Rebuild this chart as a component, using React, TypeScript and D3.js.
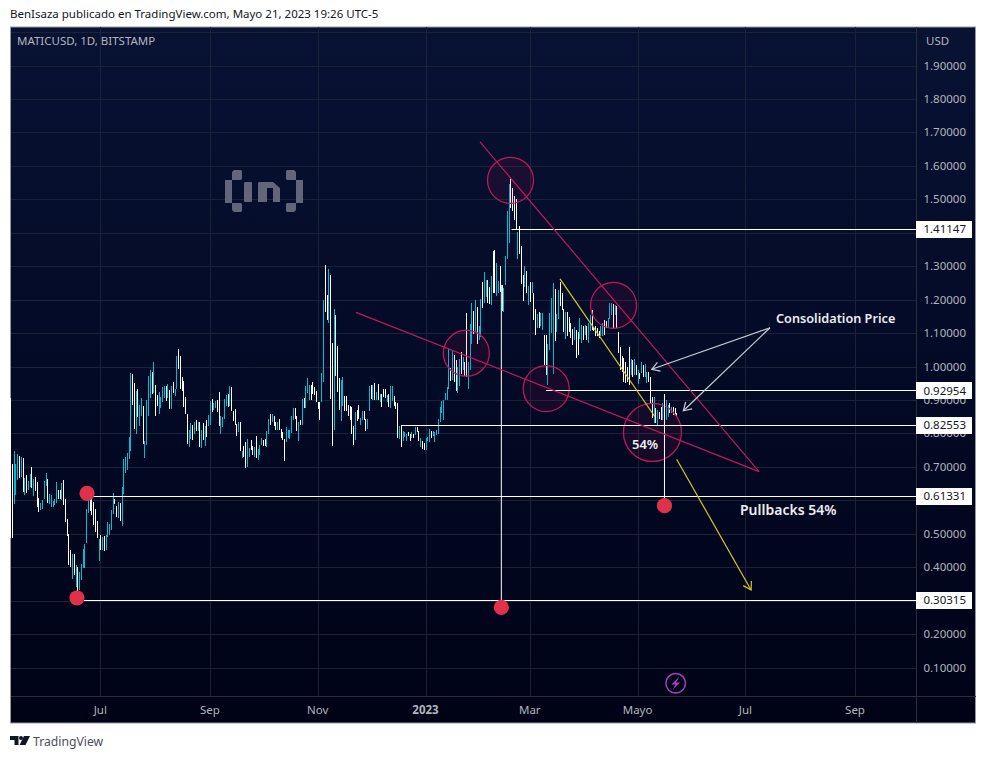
import React from 'react';
import * as d3 from 'd3';

// daily bars, first one on day -51 (days counted from Jul 1 2022)
const firstDay = -51;

const highs = [
  .906, .709, .748, .709, .739, .734, .729, .726, .666, .676,
  .658, .679, .699, .663, .671, .656, .606, .591, .601, .658,
  .681, .664, .618, .616, .598, .603, .656, .631, .631, .651,
  .661, .603, .543, .499, .451, .439, .441, .406, .401, .386,
  .409, .454, .469, .573, .626, .624, .621, .594, .573, .538,
  .484, .496, .491, .494, .496, .534, .529, .571, .621, .604,
  .583, .596, .591, .639, .723, .731, .741, .789, .981, .979,
  .951, .928, .933, .886, .906, .883, .778, .901, .973, .991,
  .985, 1.014, .946, .916, .924, .909, .939, .941, .941, .948,
  .931, .941, .954, .933, 1.033, 1.054, 1.033, .969, .958, .910,
  .859, .811, .831, .824, .835, .841, .834, .834, .811, .831,
  .823, .841, .854, .898, .904, .892, .898, .901, .924, .853,
  .849, .902, .914, .919, .943, .940, .868, .874, .829, .833,
  .835, .749, .764, .775, .784, .757, .781, .764, .761, .793,
  .753, .766, .787, .781, .784, .808, .844, .859, .859, .851,
  .835, .833, .844, .814, .803, .784, .820, .811, .811, .851,
  .877, .876, .851, .833, .841, .904, .907, .943, .966, .946,
  .946, .955, .940, .928, .894, .893, .981, 1.198, 1.303, 1.213,
  1.291, 1.273, 1.071, 1.171, 1.153, 1.063, .967, .961, .969, .913,
  .911, .884, .883, .879, .821, .864, .871, .886, .846, .868,
  .868, .844, .844, .943, .946, .944, .951, .924, .948, .919,
  .919, .933, .933, .916, .919, .943, .941, .911, .893, .891,
  .821, .823, .806, .804, .799, .805, .798, .803, .798, .818,
  .818, .808, .786, .778, .771, .785, .788, .814, .806, .808,
  .803, .811, .844, .879, .896, .901, .921, .939, 1.052, .995,
  1.047, 1.034, 1.019, .999, 1.024, 1.044, 1.029, 1.014, 1.161, 1.014,
  1.127, 1.191, 1.166, 1.199, 1.177, 1.121, 1.202, 1.252, 1.282, 1.259,
  1.259, 1.239, 1.271, 1.346, 1.349, 1.309, 1.257, 1.301, 1.244, 1.235,
  1.331, 1.466, 1.546, 1.561, 1.534, 1.509, 1.502, 1.401, 1.419, 1.361,
  1.274, 1.301, 1.286, 1.242, 1.252, 1.254, 1.219, 1.172, 1.156, 1.164, 1.16,
  1.159, 1.094, 1.094, 1.069, 1.161, 1.204, 1.249, 1.232, 1.157, 1.229,
  1.254, 1.219, 1.172, 1.164, 1.164, 1.147, 1.13, 1.112, 1.119, 1.109, 1.104,
  1.144, 1.125, 1.12, 1.125, 1.12, 1.13, 1.155, 1.17, 1.115, 1.12,
  1.115, 1.105, 1.12, 1.13, 1.14, 1.135, 1.145, 1.19, 1.19, 1.187, 1.185,
  1.18, 1.102, 1.058, 1.032, 1.025, 1.015, 1.0, 1.058, 1.022, 1.02,
  1.023, 1.005, .99, .98, 1.015, 1.005, 1.008, .985, .985, .97,
  .91, .908, .875, .87, .865, .88, .89, .917, .90, .885, .89,
  .88, .88, .875, .86,
];

const lows = [
  .486, .486, .589, .616, .661, .666, .671, .626, .616, .621,
  .631, .639, .636, .613, .629, .581, .566, .571, .573, .603,
  .643, .591, .589, .579, .581, .586, .591, .603, .603, .601,
  .586, .536, .494, .406, .401, .364, .376, .341, .316, .331,
  .361, .399, .398, .473, .561, .569, .556, .526, .506, .488,
  .418, .451, .451, .448, .451, .489, .496, .511, .559, .589,
  .549, .546, .539, .524, .619, .681, .691, .724, .748, .886,
  .814, .799, .848, .823, .851, .769, .728, .766, .851, .906,
  .919, .921, .851, .881, .859, .876, .893, .906, .896, .906,
  .873, .874, .921, .911, .933, .993, .934, .928, .878, .859,
  .769, .761, .784, .779, .798, .806, .806, .761, .756, .781,
  .764, .788, .821, .824, .864, .871, .876, .864, .821, .799,
  .818, .844, .881, .879, .881, .868, .836, .824, .791, .804,
  .749, .728, .729, .698, .701, .729, .751, .736, .729, .728,
  .721, .736, .766, .764, .763, .761, .798, .824, .834, .821,
  .811, .811, .811, .786, .781, .719, .775, .786, .783, .801,
  .841, .844, .808, .778, .824, .824, .877, .877, .921, .901,
  .901, .919, .914, .894, .874, .839, .894, .953, 1.162, 1.138,
  1.131, .904, .764, .811, .973, .925, .871, .836, .883, .866,
  .866, .851, .841, .799, .766, .781, .836, .844, .824, .841,
  .841, .806, .814, .866, .904, .901, .901, .901, .901, .893,
  .878, .908, .906, .893, .879, .876, .896, .881, .873, .786,
  .784, .761, .776, .789, .776, .793, .776, .786, .786, .796,
  .803, .776, .761, .754, .751, .751, .776, .775, .786, .791,
  .773, .796, .799, .834, .861, .841, .899, .899, .934, .957,
  .959, .954, .926, .922, .942, .979, .989, .971, .969, .934,
  .989, 1.069, 1.097, 1.102, 1.069, 1.079, 1.089, 1.174, 1.189, 1.209,
  1.189, 1.187, 1.184, 1.219, 1.219, 1.212, 1.219, 1.224, 1.167, 1.164,
  1.244, 1.322, 1.371, 1.474, 1.464, 1.437, 1.412, 1.323, 1.337, 1.247,
  1.196, 1.239, 1.221, 1.183, 1.192, 1.219, 1.139, 1.094, 1.114, 1.114, 1.12,
  1.109, 1.004, .974, .944, 1.049, 1.099, .979, 1.077, 1.102, 1.141,
  1.181, 1.169, 1.104, 1.082, 1.092, 1.104, 1.085, 1.064, 1.079, 1.026, 1.034,
  1.082, 1.07, 1.08, 1.095, 1.08, 1.072, 1.105, 1.11, 1.105, 1.09,
  1.09, 1.085, 1.09, 1.09, 1.095, 1.115, 1.115, 1.142, 1.155, 1.115, 1.155,
  1.115, 1.04, .99, .985, .955, .95, .955, .945, .975, .97,
  .975, .975, .948, .962, .98, .97, .97, .95, .955, .89,
  .845, .83, .83, .823, .842, .84, .84, .84, .84, .85, .86,
  .86, .855, .855, .852,
];

// T = teal (up day), W = white (down day)
const barColours = (
  'WWTTTWTWTW' + 'TTWTWWWTTT' + 'TWTTTTTWWT' + 'WWWWWTWTWT' + 'TTTTTWWWWW' +
  'TWTWTTTTTW' + 'WTWTTTTTTW' + 'WTWTTWTTTT' + 'WTWWTTTTWT' + 'WTWTTWWWWW' +
  'WTTWTWTWTW' + 'TWTTWTTWWT' + 'TTTWTWWWWT' + 'WTWWTTWWTW' + 'TTTWWTTWTW' +
  'WTWWWWTTTT' + 'TWWTWTWTTT' + 'WWWWWWTTWW' + 'TWWTWWWTTW' + 'WWWWWTWWTT' +
  'WWTTWTWTWT' + 'WWWTWTTWWW' + 'TWTTTWWTWT' + 'WWTWWTTTWT' + 'TTTTTTTTTW' +
  'TWWTTWTWWT' + 'TTWTWTTWTT' + 'WWTWWTTWWT' + 'TTTWWWWTWW' + 'WTWTWTWWTW' + 'T' +
  'TWWTTTTWTT' + 'WWWTWWWWTWW' + 'TTWTWTTWWW' + 'WWTTWWTTTWT' + 'WWWWWWWWTW' +
  'TWTWTWTTWW' + 'WTWTWWTWTTW' + 'TWWW'
).split('');

const priceTicks = [1.9, 1.8, 1.7, 1.6, 1.5, 1.4, 1.3, 1.2, 1.1, 1.0, 0.9, 0.8, 0.7, 0.6, 0.5, 0.4, 0.3, 0.2, 0.1];
const gridPrices = [2.0, ...priceTicks];
const dateTickDays = [0, 62, 123, 184, 243, 304, 365, 427];
const dateTickLabels = ['Jul', 'Sep', 'Nov', '2023', 'Mar', 'Mayo', 'Jul', 'Sep'];

// drawn levels, starting day -> right axis
const levelPrices = [1.41147, 0.92954, 0.82553, 0.61331, 0.30315];
const levelStartDays = [232.7, 252.2, 170.1, -5.8, -11];
// these tick labels sit fully behind a level's box in the original
const hiddenTicks = [1.4, 0.6, 0.3];

// [day, price] pairs for the hand drawn stuff
const pinkLines = [
  [[214.8, 1.672], [372.7, 0.686]],
  [[144.7, 1.162], [372.7, 0.686]],
];
const yellowLine = [[260.1, 1.262], [313.8, 0.85]];
const yellowArrow = [[326.1, 0.723], [368.2, 0.332]];
const whiteArrows = [
  [[378.9, 1.116], [312, 0.992]],
  [[378.9, 1.116], [329.9, 0.868]],
];
const dropLines = [
  [[226.9, 1.244], [226.9, 0.28]],
  [[319.2, 0.917], [319.2, 0.584]],
];
const redDots = [[-13.2, 0.308], [-7.5, 0.621], [226.9, 0.28], [319.2, 0.584]];
const smallCircles = [[232.1, 1.557], [207.1, 1.04], [252.3, 0.934], [290.4, 1.183]];
const bigCircle = [312.4, 0.803];

const x = d3.scaleLinear().domain([0, 427]).range([100.3, 855]);
const y = d3.scaleLinear().domain([0, 1.9]).range([701, 65.6]);

const fontUi = '"Noto Sans", sans-serif';

const toPath = (pts: number[][]) =>
  d3.line<number[]>().x(d => x(d[0])).y(d => y(d[1]))(pts) as string;

// open arrow head at the end of a segment
const arrowHead = (pts: number[][], size: number) => {
  const [x0, y0] = [x(pts[0][0]), y(pts[0][1])];
  const [x1, y1] = [x(pts[1][0]), y(pts[1][1])];
  const a = Math.atan2(y1 - y0, x1 - x0);
  const s = 0.55;
  return `M${x1 - size * Math.cos(a - s)},${y1 - size * Math.sin(a - s)}L${x1},${y1}L${x1 - size * Math.cos(a + s)},${y1 - size * Math.sin(a + s)}`;
};

export default function App() {
  const pink = '#c2185b';
  const plot = { left: 10.5, top: 27, right: 975.5, bottom: 723 };
  const axisX = 916.5;
  const axisY = 696.5;

  return (
    <svg width={986} height={759} style={{ position: 'absolute', left: 0, top: 0, background: '#fff' }}>
      <defs>
        <linearGradient id="bg" x1="0" y1="0" x2="0" y2="1">
          <stop offset="0" stopColor="#081233" />
          <stop offset="0.5" stopColor="#030a26" />
          <stop offset="1" stopColor="#000316" />
        </linearGradient>
      </defs>

      <text x={10} y={18} fontFamily={fontUi} fontSize={11.5} fill="#131722">
        BenIsaza publicado en TradingView.com, Mayo 21, 2023 19:26 UTC-5
      </text>

      <rect x={plot.left} y={plot.top} width={plot.right - plot.left} height={plot.bottom - plot.top}
        fill="url(#bg)" stroke="#9598a1" />

      {/* grid */}
      <g stroke="#1b2238" strokeWidth={1} shapeRendering="crispEdges">
        {gridPrices.map(p => <line key={p} x1={plot.left} x2={axisX} y1={Math.round(y(p)) + 0.5} y2={Math.round(y(p)) + 0.5} />)}
        {dateTickDays.map(d => <line key={d} x1={Math.round(x(d)) + 0.5} x2={Math.round(x(d)) + 0.5} y1={plot.top} y2={axisY} />)}
      </g>
      <g stroke="#2a2e39" shapeRendering="crispEdges">
        <line x1={axisX} x2={axisX} y1={plot.top} y2={plot.bottom} />
        <line x1={plot.left} x2={plot.right} y1={axisY} y2={axisY} />
      </g>

      {/* watermark */}
      <g fill="#62667a">
        <path d="M234,170h7l1,1v8l-1,1h-9v23h9l1,1v7l-1,1h-7l-2,-2v-7h-7v-23h7v-8z" />
        <path d="M294,170h-7l-1,1v8l1,1h9v23h-9l-1,1v7l1,1h7l2,-2v-7h7v-23h-7v-8z" />
        <rect x={244} y={182} width={8} height={20} rx={1} />
        <path d="M259,182h14l7,6v14h-7v-14h-6v14h-9v-19z" />
      </g>

      <text x={17} y={45} fontFamily={fontUi} fontSize={11.5} fill="#b2b5be">MATICUSD, 1D, BITSTAMP</text>

      {/* candles */}
      <g shapeRendering="crispEdges">
        {highs.map((h, i) => (
          <rect key={i} x={Math.round(x(firstDay + i))} width={1}
            y={y(h)} height={y(lows[i]) - y(h)}
            fill={barColours[i] === 'T' ? '#00bcd4' : '#ffffff'} />
        ))}
      </g>

      {/* circles */}
      <g stroke={pink} strokeWidth={1.25} fill={pink} fillOpacity={0.1}>
        {smallCircles.map((c, i) => <circle key={i} cx={x(c[0])} cy={y(c[1])} r={23} />)}
        <circle cx={x(bigCircle[0])} cy={y(bigCircle[1])} r={29} />
      </g>

      {/* levels */}
      <g stroke="#fff" strokeWidth={1}>
        {levelPrices.map((p, i) => (
          <line key={p} x1={x(levelStartDays[i])} x2={axisX} y1={Math.round(y(p)) + 0.5} y2={Math.round(y(p)) + 0.5} />
        ))}
        {dropLines.map((l, i) => <path key={i} d={toPath(l)} fill="none" />)}
      </g>

      {/* trend lines */}
      {pinkLines.map((l, i) => <path key={i} d={toPath(l)} stroke={pink} strokeWidth={1.2} fill="none" />)}
      <path d={toPath(yellowLine)} stroke="#d4c72e" strokeWidth={1.2} fill="none" />
      <path d={toPath(yellowArrow)} stroke="#d4c72e" strokeWidth={1.2} fill="none" />
      <path d={arrowHead(yellowArrow, 9)} stroke="#d4c72e" strokeWidth={1.2} fill="none" />
      {whiteArrows.map((l, i) => (
        <g key={i} stroke="#c9ccd4" strokeWidth={1.2} fill="none">
          <path d={toPath(l)} />
          <path d={arrowHead(l, 9)} />
        </g>
      ))}

      {redDots.map((d, i) => <circle key={i} cx={x(d[0])} cy={y(d[1])} r={7.6} fill="#e0304a" />)}

      <g fontFamily={fontUi} fill="#eceef2" fontWeight={600}>
        <text x={776} y={322.5} fontSize={12.7}>Consolidation Price</text>
        <text x={740} y={515} fontSize={14}>Pullbacks 54%</text>
        <text x={632} y={449} fontSize={13}>54%</text>
      </g>

      {/* lightning badge */}
      <g>
        <circle cx={675.7} cy={683.3} r={9.8} fill="none" stroke="#ab3ec4" strokeWidth={1.5} />
        <path d="M679.5,676.5L671.5,684.5H675.5L672.5,690L680,682.5H676Z" fill="#ab3ec4" />
      </g>

      {/* price axis */}
      <g fontFamily={fontUi} fontSize={11.5} fill="#b2b5be">
        <text x={926} y={44.5}>USD</text>
        {priceTicks.filter(p => !hiddenTicks.includes(p)).map(p => (
          <text key={p} x={966} y={y(p) + 4} textAnchor="end">{p.toFixed(5)}</text>
        ))}
      </g>
      <g fontFamily={fontUi} fontSize={11.5}>
        {levelPrices.map(p => (
          <g key={p}>
            <rect x={916} y={Math.round(y(p)) - 8} width={56} height={17} fill="#fff" />
            <text x={966} y={y(p) + 4.5} textAnchor="end" fill="#131722">{p.toFixed(5)}</text>
          </g>
        ))}
      </g>

      {/* time axis */}
      <g fontFamily={fontUi} fontSize={11.5} fill="#b2b5be" textAnchor="middle">
        {dateTickDays.map((d, i) => (
          <text key={i} x={x(d)} y={714} fontWeight={dateTickLabels[i] === '2023' ? 700 : 400}>{dateTickLabels[i]}</text>
        ))}
      </g>

      {/* footer logo */}
      <g fill="#131722">
        <path d="M10,736h8.5v9h-4v-5h-4.500z" />
        <circle cx={21} cy={738} r={2} />
        <path d="M24,736h6l-4.500,9h-6z" />
      </g>
      <text x={33} y={746} fontFamily={fontUi} fontSize={12.2} fill="#4a4e59">TradingView</text>
    </svg>
  );
}
